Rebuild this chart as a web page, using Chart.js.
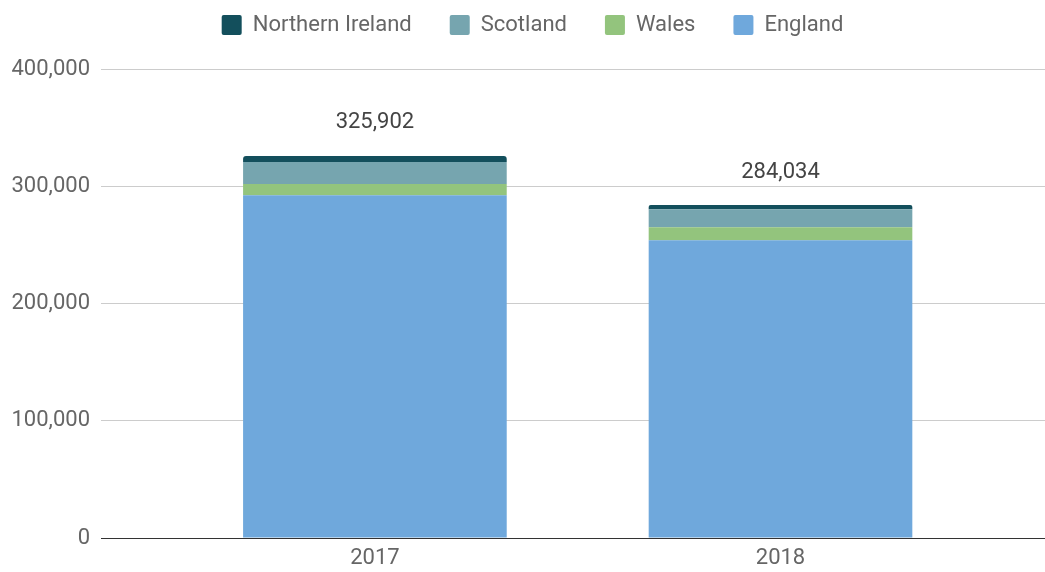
<!DOCTYPE html>
<html>
<head>
<meta charset="utf-8">
<script src="https://cdn.jsdelivr.net/npm/chart.js@4.4.0/dist/chart.umd.min.js"></script>
<style>
  body { margin: 0; background: #fff; }
  #wrap { width: 1045px; height: 572px; overflow: hidden; }
</style>
</head>
<body>
<div id="wrap"><canvas id="chart"></canvas></div>
<script>
// datos
const years = ['2017', '2018'];
const england = [292400, 253900];
const wales = [9600, 11100];
const scotland = [18800, 15500];
const northernIreland = [5102, 3534];
const totals = [325902, 284034];
const yTicks = [0, 100000, 200000, 300000, 400000];

const toPoints = (arr) => arr.map((v, i) => ({ x: i, y: v }));

// etiquetas de total encima de cada barra
const totalLabels = {
    id: 'totalLabels',
    afterDatasetsDraw(chart) {
        const ctx = chart.ctx;
        const last = chart.getDatasetMeta(chart.data.datasets.length - 1);
        ctx.save();
        ctx.font = '22px Roboto';
        ctx.fillStyle = '#444';
        ctx.textAlign = 'center';
        ctx.textBaseline = 'middle';
        last.data.forEach((bar, i) => {
            ctx.fillText(totals[i].toLocaleString('en-US'), bar.x, bar.y - 33);
        });
        ctx.restore();
    }
};

const ctx = document.getElementById('chart').getContext('2d');

const chart = new Chart(ctx, {
    type: 'bar',
    data: {
        datasets: [
            { label: 'England', data: toPoints(england), backgroundColor: '#6fa8dc' },
            { label: 'Wales', data: toPoints(wales), backgroundColor: '#93c47d' },
            { label: 'Scotland', data: toPoints(scotland), backgroundColor: '#76a5af' },
            { label: 'Northern Ireland', data: toPoints(northernIreland), backgroundColor: '#134f5c',
              borderRadius: { topLeft: 3, topRight: 3 }, borderSkipped: 'bottom' }
        ]
    },
    options: {
        responsive: true,
        maintainAspectRatio: false,
        animation: false,
        barPercentage: 0.65,
        categoryPercentage: 1,
        // right negativo: la leyenda queda centrada como el original
        layout: { padding: { left: 0, right: -20, top: -24, bottom: 0 } },
        plugins: {
            tooltip: { enabled: false },
            legend: {
                position: 'top',
                reverse: true,
                labels: {
                    font: { family: 'Roboto', size: 22 },
                    color: '#666',
                    boxWidth: 20,
                    boxHeight: 20,
                    padding: 38,
                    useBorderRadius: true,
                    borderRadius: 2
                }
            },
            // espacio entre leyenda y grafico
            title: {
                display: true,
                text: '',
                weight: 500,
                padding: 0,
                font: { size: 21, lineHeight: 1.1 }
            }
        },
        scales: {
            x: {
                type: 'linear',
                stacked: true,
                offset: false,
                min: -0.6753,
                max: 1.6521,
                grid: { display: false, drawTicks: false },
                border: { display: false },
                afterBuildTicks: (scale) => {
                    scale.ticks = years.map((y, i) => ({ value: i }));
                },
                afterFit: (scale) => { scale.height = 34; },
                ticks: {
                    font: { family: 'Roboto', size: 22 },
                    color: '#666',
                    padding: 7,
                    callback: (v) => years[v]
                }
            },
            y: {
                stacked: true,
                min: 0,
                max: 400000,
                afterBuildTicks: (scale) => {
                    scale.ticks = yTicks.map(v => ({ value: v }));
                },
                afterFit: (scale) => { scale.width = 101; },
                border: { display: false },
                grid: {
                    drawTicks: false,
                    color: (c) => c.tick && c.tick.value === 0 ? '#333' : '#ccc',
                    lineWidth: 1
                },
                ticks: {
                    font: { family: 'Roboto', size: 22 },
                    color: '#666',
                    padding: 11,
                    callback: (v) => v.toLocaleString('en-US')
                }
            }
        }
    },
    plugins: [totalLabels]
});

console.log(chart)
</script>
</body>
</html>
